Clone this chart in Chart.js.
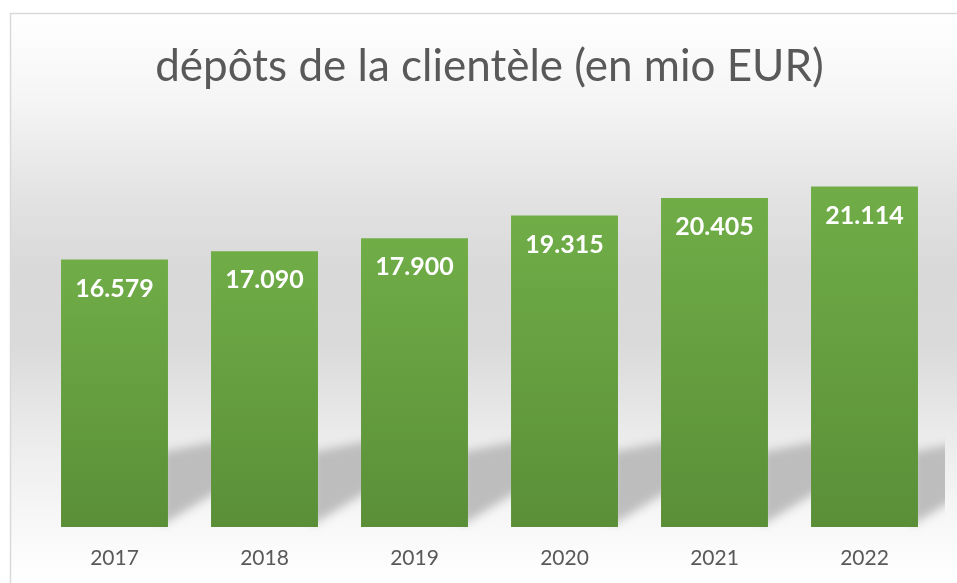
<!DOCTYPE html>
<html>
<head>
<meta charset="utf-8">
<script src="https://cdn.jsdelivr.net/npm/chart.js@4"></script>
<style>
  html, body { margin: 0; padding: 0; background: #fff; }
  #wrap { width: 957px; height: 583px; }
</style>
</head>
<body>
<div id="wrap"><canvas id="chart" width="957" height="583"></canvas></div>
<script>
const years = ['2017', '2018', '2019', '2020', '2021', '2022'];
const deposits = [16579, 17090, 17900, 19315, 20405, 21114];
const chartTitle = 'dépôts de la clientèle (en mio EUR)';
const yMin = 0;
const yMax = 25000;

// 16579 -> "16.579"
function formatValue(v) {
    return String(v).replace(/\B(?=(\d{3})+(?!\d))/g, '.');
}

// Green gradient, lighter at the top of each bar
function barFill(context) {
    const chart = context.chart;
    if (!chart.chartArea || !chart.scales.y) return '#66a042';
    const top = chart.scales.y.getPixelForValue(deposits[context.dataIndex]);
    const bottom = chart.scales.y.getPixelForValue(0);
    const g = chart.ctx.createLinearGradient(0, top, 0, bottom);
    g.addColorStop(0, '#70ad47');
    g.addColorStop(1, '#5a8f38');
    return g;
}

// Grey backdrop with a thin frame on the left and top
const backdrop = {
    id: 'backdrop',
    beforeDraw(chart) {
        const ctx = chart.ctx;
        const w = chart.width, h = chart.height;
        ctx.save();
        ctx.fillStyle = '#fff';
        ctx.fillRect(0, 0, w, h);
        const g = ctx.createLinearGradient(0, 13, 0, h);
        g.addColorStop(0, '#ffffff');
        g.addColorStop(0.15, '#f5f5f5');
        g.addColorStop(0.33, '#e2e2e2');
        g.addColorStop(0.45, '#d9d9d9');
        g.addColorStop(0.58, '#dadada');
        g.addColorStop(0.74, '#ebebeb');
        g.addColorStop(0.9, '#f8f8f8');
        g.addColorStop(1, '#ffffff');
        ctx.fillStyle = g;
        ctx.fillRect(10, 13, w - 10, h - 13);
        ctx.strokeStyle = '#d9d9d9';
        ctx.lineWidth = 1.5;
        ctx.beginPath();
        ctx.moveTo(10.5, h);
        ctx.lineTo(10.5, 13.5);
        ctx.lineTo(w, 13.5);
        ctx.stroke();
        ctx.restore();
    }
};

// Soft slanted shadow behind each bar
const barShadows = {
    id: 'barShadows',
    beforeDatasetsDraw(chart) {
        const ctx = chart.ctx;
        const meta = chart.getDatasetMeta(0);
        ctx.save();
        ctx.beginPath();
        ctx.rect(0, 0, 945, chart.height);
        ctx.clip();
        ctx.filter = 'blur(5px)';
        ctx.fillStyle = '#bdbdbd';
        meta.data.forEach(bar => {
            const r = bar.x + bar.width / 2;
            const b = bar.base;
            ctx.beginPath();
            ctx.moveTo(r - 6, b - 2);
            ctx.lineTo(r - 6, b - 75);
            ctx.lineTo(r + 70, b - 90);
            ctx.lineTo(r + 70, b - 48);
            ctx.closePath();
            ctx.fill();
        });
        ctx.restore();
    }
};

// White values inside the top of each bar
const valueLabels = {
    id: 'valueLabels',
    afterDatasetsDraw(chart) {
        const ctx = chart.ctx;
        const meta = chart.getDatasetMeta(0);
        ctx.save();
        ctx.font = 'bold 25px Lato';
        ctx.fillStyle = '#ffffff';
        ctx.textAlign = 'center';
        ctx.textBaseline = 'middle';
        meta.data.forEach((bar, i) => {
            ctx.fillText(formatValue(deposits[i]), bar.x, bar.y + 29);
        });
        ctx.restore();
    }
};

new Chart(document.getElementById('chart'), {
    type: 'bar',
    data: {
        labels: years,
        datasets: [{
            data: deposits,
            backgroundColor: barFill,
            borderWidth: 0,
            barPercentage: 0.713,
            categoryPercentage: 1
        }]
    },
    options: {
        responsive: false,
        animation: false,
        layout: { padding: { left: 39.5, right: 17.5, top: 0, bottom: 0 } },
        plugins: {
            legend: { display: false },
            tooltip: { enabled: false },
            title: {
                display: true,
                text: chartTitle,
                color: '#595959',
                font: { family: 'Lato', size: 44, weight: 'normal' },
                padding: { top: 40, bottom: 31 }
            }
        },
        scales: {
            x: {
                grid: { display: false, drawTicks: false },
                border: { display: false },
                ticks: { color: '#595959', font: { family: 'Lato', size: 21 }, padding: 19 },
                afterFit: s => { s.height = 56; }
            },
            y: { display: false, min: yMin, max: yMax }
        }
    },
    plugins: [backdrop, barShadows, valueLabels]
});
</script>
</body>
</html>
